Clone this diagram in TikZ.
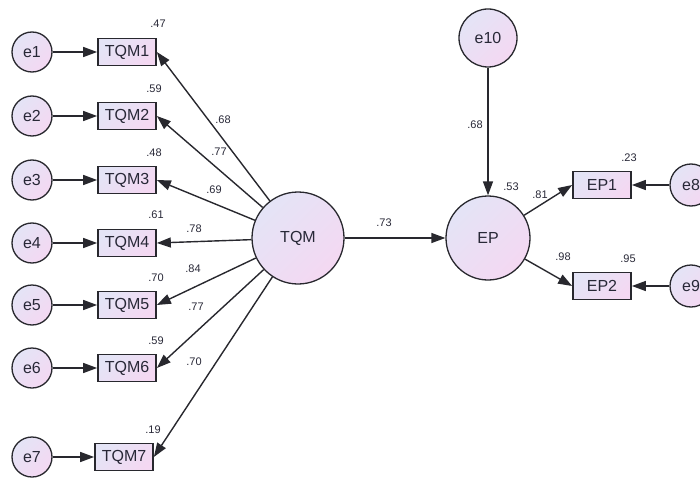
\documentclass[tikz,border=0pt]{standalone}
\usepackage{fontspec}
\setmainfont{Liberation Sans}
\usetikzlibrary{arrows.meta}
\definecolor{lavA}{RGB}{228,228,246}
\definecolor{lavB}{RGB}{244,216,242}
\definecolor{edgec}{RGB}{40,40,46}
\definecolor{txtc}{RGB}{40,40,55}
\begin{document}
\begin{tikzpicture}[x=1pt,y=-1pt,
  shade/.style={top color=lavA, bottom color=lavB, shading angle=45},
  ecirc/.style={circle, shade, draw=edgec, line width=1.3pt, minimum size=40pt, inner sep=0pt, text=txtc, font=\fontsize{16}{16}\selectfont},
  latent/.style={ecirc, minimum size=#1},
  obs/.style={rectangle, shade, draw=edgec, line width=1.7pt, minimum width=58pt, minimum height=27pt, inner sep=0pt, text=txtc, font=\fontsize{16}{16}\selectfont},
  arr/.style={draw=edgec, line width=1.4pt, -{Triangle[length=14pt,width=10pt]}},
  lbl/.style={inner sep=0pt, text=txtc, font=\fontsize{11}{11}\selectfont}
]
\useasboundingbox (0,0) rectangle (700,481);

% error terms
\node[ecirc] (e1) at (32,52) {e1};
\node[ecirc] (e2) at (32,116) {e2};
\node[ecirc] (e3) at (32,180) {e3};
\node[ecirc] (e4) at (32,243) {e4};
\node[ecirc] (e5) at (32,305) {e5};
\node[ecirc] (e6) at (32,368) {e6};
\node[ecirc] (e7) at (32,457) {e7};

% indicators
\node[obs] (t1) at (127,52) {TQM1};
\node[obs] (t2) at (127,116) {TQM2};
\node[obs] (t3) at (127,180) {TQM3};
\node[obs] (t4) at (127,243) {TQM4};
\node[obs] (t5) at (127,305) {TQM5};
\node[obs] (t6) at (127,368) {TQM6};
\node[obs] (t7) at (124,457) {TQM7};

% latent variables
\node[latent=92pt] (tqm) at (298,238) {TQM};
\node[latent=84pt] (ep) at (488,238) {EP};
\node[latent=58pt] (e10) at (488,38) {e10};

\node[obs] (ep1) at (602,185) {EP1};
\node[obs] (ep2) at (602,286) {EP2};
\node[latent=42pt] (e8) at (691,185) {e8};
\node[latent=42pt] (e9) at (691,286) {e9};

% arrows
\foreach \i in {1,...,7} {
  \draw[arr] (e\i) -- (t\i);
  \draw[arr] (tqm) -- (t\i.east);
}
\draw[arr] (tqm) -- (ep);
\draw[arr] (e10) -- (ep);
\draw[arr] (ep) -- (ep1.west);
\draw[arr] (ep) -- (ep2.west);
\draw[arr] (e8) -- (ep1);
\draw[arr] (e9) -- (ep2);

% squared multiple correlations
\node[lbl] (r1) at (158,24) {.47};
\node[lbl] (r2) at (154,89) {.59};
\node[lbl] (r3) at (154,153) {.48};
\node[lbl] (r4) at (156,215) {.61};
\node[lbl] (r5) at (156,278) {.70};
\node[lbl] (r6) at (156,341) {.59};
\node[lbl] (r7) at (153,430) {.19};
\node[lbl] (r8) at (629,158) {.23};
\node[lbl] (r9) at (628,259) {.95};
\node[lbl] (r10) at (511,187) {.53};

% loadings
\node[lbl] (l1) at (223,120) {.68};
\node[lbl] (l2) at (219,152) {.77};
\node[lbl] (l3) at (214,190) {.69};
\node[lbl] (l4) at (194,229) {.78};
\node[lbl] (l5) at (193,269) {.84};
\node[lbl] (l6) at (196,307) {.77};
\node[lbl] (l7) at (194,362) {.70};
\node[lbl] (l8) at (384,223) {.73};
\node[lbl] (l9) at (475,125) {.68};
\node[lbl] (l10) at (540,195) {.81};
\node[lbl] (l11) at (563,257) {.98};
\end{tikzpicture}
\end{document}
